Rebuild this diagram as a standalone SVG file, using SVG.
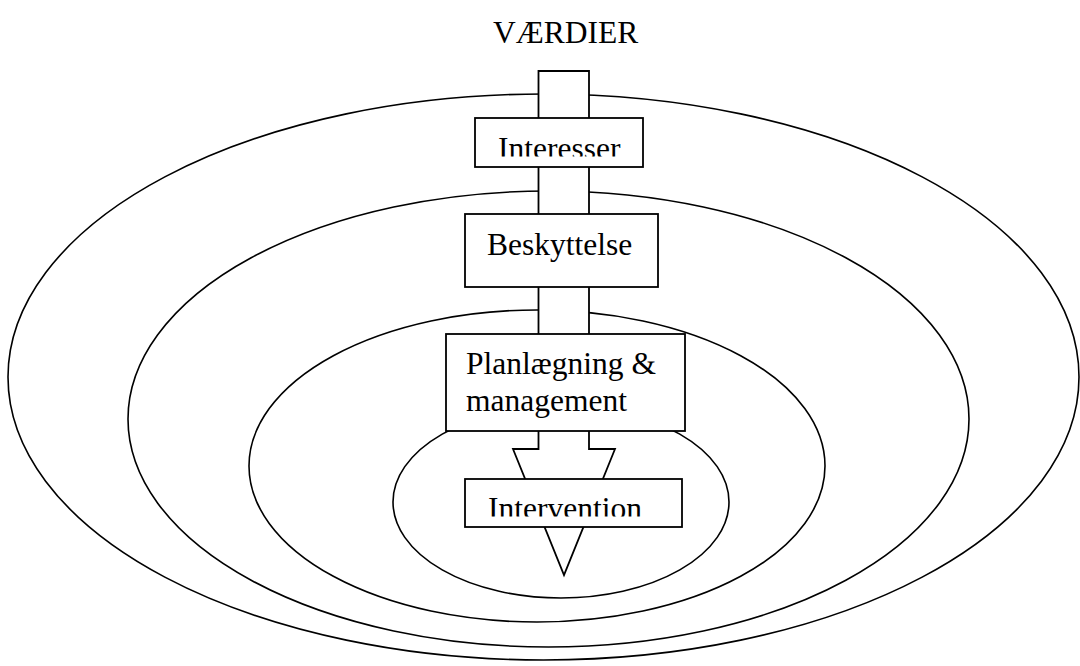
<svg xmlns="http://www.w3.org/2000/svg" width="1080" height="666" viewBox="0 0 1080 666">
<style>
.ring{fill:none;stroke:#000;stroke-width:1.6}
.box{fill:#fff;stroke:#000;stroke-width:1.8}
.arrow{fill:#fff;stroke:#000;stroke-width:1.8;stroke-linejoin:miter}
.lbl{font-family:"Liberation Serif","Times New Roman",serif;font-size:31.5px;fill:#000}
</style>
<defs>
<clipPath id="clipInt"><rect x="476" y="119" width="166" height="37.5"/></clipPath>
<clipPath id="clipIntv"><rect x="466" y="480" width="215" height="36.5"/></clipPath>
</defs>
<rect width="1080" height="666" fill="#fff"/>
<g id="title"><text class="lbl" x="493" y="43">VÆRDIER</text></g>
<g id="rings">
<ellipse id="ring-outer" class="ring" cx="543.5" cy="377" rx="535.5" ry="283"/>
<ellipse id="ring-2" class="ring" cx="548.5" cy="419" rx="420.5" ry="228"/>
<ellipse id="ring-3" class="ring" cx="537" cy="466" rx="288" ry="156"/>
<ellipse id="ring-inner" class="ring" cx="561" cy="502" rx="168" ry="96"/>
</g>
<g id="connectors">
<polygon class="arrow" points="538.5,71 589,71 589,449 615,449 564,575 513,449 538.5,449"/>
</g>
<g id="node-interesser">
<rect class="box" x="475" y="118" width="168" height="49"/>
<text class="lbl" x="498" y="158.5" clip-path="url(#clipInt)">Interesser</text>
</g>
<g id="node-beskyttelse">
<rect class="box" x="465" y="214" width="193" height="73"/>
<text class="lbl" x="487" y="255">Beskyttelse</text>
</g>
<g id="node-planlaegning">
<rect class="box" x="446" y="334" width="239" height="97"/>
<text class="lbl" x="466" y="374">Planlægning &amp;</text>
<text class="lbl" x="466" y="411">management</text>
</g>
<g id="node-intervention">
<rect class="box" x="465" y="479" width="217" height="48"/>
<text class="lbl" x="488" y="518.5" clip-path="url(#clipIntv)">Intervention</text>
</g>
</svg>
